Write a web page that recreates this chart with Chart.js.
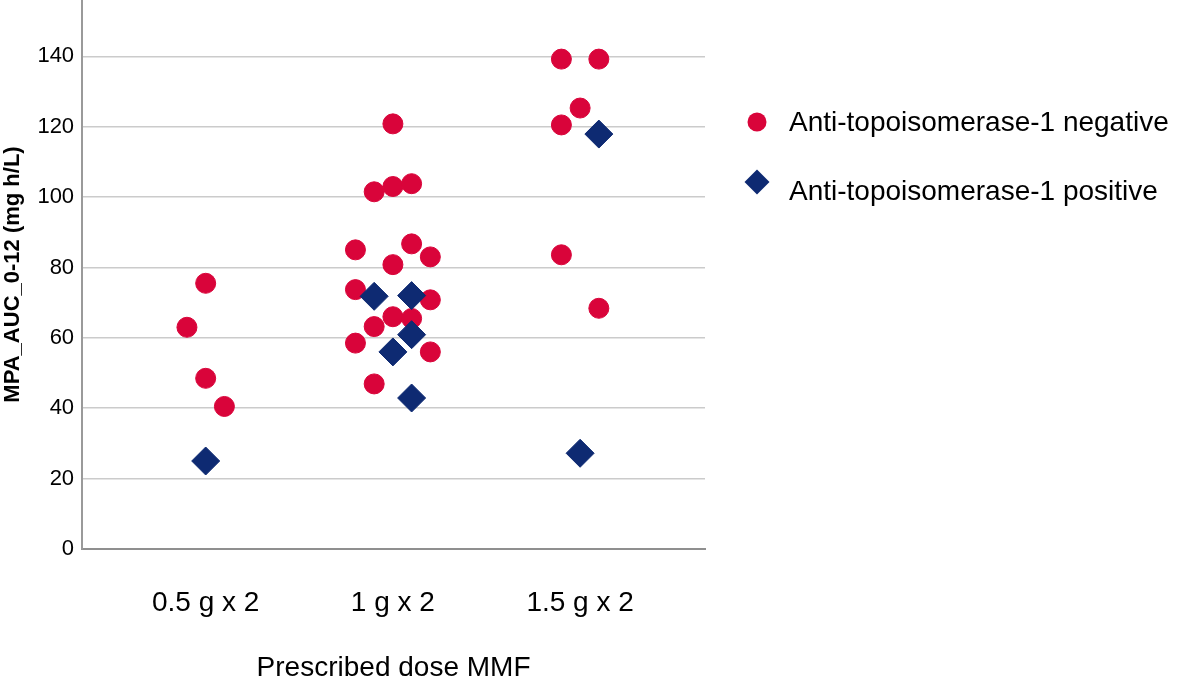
<!DOCTYPE html>
<html>
<head>
<meta charset="utf-8">
<script src="https://cdn.jsdelivr.net/npm/chart.js@4/dist/chart.umd.min.js"></script>
<style>
  html, body { margin: 0; padding: 0; background: #fff; }
  #wrap { width: 1180px; height: 677px; position: relative; }
</style>
</head>
<body>
<div id="wrap"><canvas id="chart"></canvas></div>
<script>
const doses = ["0.5 g x 2", "1 g x 2", "1.5 g x 2"];
const yTicks = [0, 20, 40, 60, 80, 100, 120, 140];

// Anti-topoisomerase-1 negative: dose index, side-by-side offset (category units), AUC
const negDose   = [0, 0, 0, 0,
                   1, 1, 1, 1, 1, 1, 1, 1, 1, 1, 1, 1, 1, 1, 1, 1,
                   2, 2, 2, 2, 2, 2];
const negJitter = [-0.1, 0, 0, 0.1,
                   0, -0.1, 0, 0.1, -0.2, 0.1, 0.2, 0, -0.2, 0.2, 0, 0.1, -0.1, -0.2, 0.2, -0.1,
                   -0.1, 0.1, 0, -0.1, -0.1, 0.1];
const negAuc    = [63, 75.5, 48.5, 40.5,
                   120.8, 101.5, 103, 103.8, 85, 86.7, 83, 80.8, 73.7, 70.8, 66, 65.5, 63.2, 58.5, 56, 46.9,
                   139.2, 139.2, 125.3, 120.5, 83.6, 68.4];

// Anti-topoisomerase-1 positive
const posDose   = [0, 1, 1, 1, 1, 1, 2, 2];
const posJitter = [0, -0.1, 0.1, 0.1, 0, 0.1, 0.1, 0];
const posAuc    = [25, 71.8, 72, 60.9, 56, 42.9, 117.9, 27.2];

const RED = "#d9043a";
const NAVY = "#0e2a72";
const FONT = "'Liberation Sans', Arial, Helvetica, sans-serif";

Chart.defaults.font.family = FONT;
Chart.defaults.color = "#000";

function points(dose, jitter, auc) {
  return auc.map((v, i) => ({ x: dose[i] + jitter[i], y: v }));
}

// legend drawn in the empty space right of the plot
const sideLegend = {
  id: "sideLegend",
  afterDraw(chart) {
    const ctx = chart.ctx;
    const mx = chart.chartArea.right + 52;
    const tx = chart.chartArea.right + 84;
    const rows = [{ my: 122, ty: 123, r: 9.5 }, { my: 182, ty: 192, r: 12.5 }];
    const sets = chart.data.datasets.slice().sort((a, b) => b.order - a.order);
    ctx.save();
    sets.forEach((ds, i) => {
      const row = rows[i];
      ctx.beginPath();
      ctx.fillStyle = ds.backgroundColor;
      if (ds.pointStyle === "circle") {
        ctx.arc(mx, row.my, row.r, 0, Math.PI * 2);
      } else {
        ctx.moveTo(mx - row.r, row.my);
        ctx.lineTo(mx, row.my - row.r);
        ctx.lineTo(mx + row.r, row.my);
        ctx.lineTo(mx, row.my + row.r);
        ctx.closePath();
      }
      ctx.fill();
      ctx.fillStyle = "#000";
      ctx.font = "28px " + FONT;
      ctx.textBaseline = "middle";
      ctx.textAlign = "left";
      ctx.fillText(ds.label, tx, row.ty);
    });
    ctx.restore();
  }
};

new Chart(document.getElementById("chart"), {
  type: "scatter",
  data: {
    datasets: [
      {
        label: "Anti-topoisomerase-1 negative",
        data: points(negDose, negJitter, negAuc),
        pointStyle: "circle",
        pointRadius: 10,
        borderWidth: 1,
        backgroundColor: RED,
        borderColor: RED,
        order: 2
      },
      {
        label: "Anti-topoisomerase-1 positive",
        data: points(posDose, posJitter, posAuc),
        pointStyle: "rectRot",
        pointRadius: 14,
        borderWidth: 1,
        backgroundColor: NAVY,
        borderColor: NAVY,
        order: 1
      }
    ]
  },
  options: {
    responsive: true,
    maintainAspectRatio: false,
    animation: false,
    layout: { autoPadding: false, padding: { left: 0, top: 0, bottom: 0, right: 475 } },
    plugins: {
      legend: { display: false },
      tooltip: { enabled: false }
    },
    scales: {
      x: {
        type: "linear",
        min: -0.66,
        max: 2.667,
        grid: { display: false, drawTicks: false },
        border: { display: true, color: "#8f8f8f", width: 2 },
        afterBuildTicks: s => { s.ticks = doses.map((d, i) => ({ value: i })); },
        afterFit: s => { s.paddingLeft = 0; s.paddingRight = 0; },
        ticks: {
          padding: 38,
          font: { size: 28 },
          color: "#000",
          callback: v => doses[v]
        },
        title: {
          display: true,
          text: "Prescribed dose MMF",
          font: { size: 28, lineHeight: 0.64 },
          color: "#000",
          padding: { top: 0.5, bottom: 0 }
        }
      },
      y: {
        min: 0,
        max: 156,
        grid: { color: "#cbcbcb", lineWidth: 1.5, drawTicks: false },
        border: { display: true, color: "#9a9a9a", width: 2 },
        afterBuildTicks: s => { s.ticks = yTicks.map(v => ({ value: v })); },
        afterFit: s => { s.paddingTop = 0; s.paddingBottom = 0; },
        ticks: {
          padding: 8,
          font: { size: 22 },
          color: "#000"
        },
        title: {
          display: true,
          text: "MPA_AUC_0-12 (mg h/L)",
          font: { size: 22, weight: "bold" },
          color: "#000",
          padding: { top: 0, bottom: 3 }
        }
      }
    }
  },
  plugins: [sideLegend]
});
</script>
</body>
</html>
